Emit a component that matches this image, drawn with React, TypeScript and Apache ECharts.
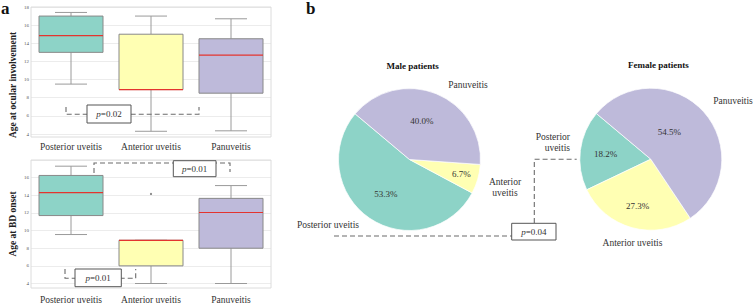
import React, { useEffect, useRef } from 'react';
import * as echarts from 'echarts';

// ---------- data ----------
const categories = ['Posterior uveitis', 'Anterior uveitis', 'Panuveitis'];
// [min, Q1, median, Q3, max]
const ocularStats = [
  [9.5, 13.0, 14.85, 17.0, 17.4],
  [4.3, 8.9, 8.9, 15.0, 17.0],
  [4.35, 8.5, 12.7, 14.5, 16.7],
];
const onsetStats = [
  [9.55, 11.7, 14.3, 16.25, 17.3],
  [4.0, 6.0, 8.9, 8.9, 8.9],
  [4.0, 8.0, 12.05, 13.65, 15.1],
];
const onsetOutliers = [[1, 14.15]];
const sliceNames = ['Posterior uveitis', 'Anterior uveitis', 'Panuveitis'];
const malePercent = [53.3, 6.7, 40.0];
const femalePercent = [18.2, 27.3, 54.5];
const maleLabelText = ['Posterior uveitis', 'Anterior\nuveitis', 'Panuveitis'];
const femaleLabelText = ['Posterior\nuveitis', 'Anterior uveitis', 'Panuveitis'];
const pValues = ['0.02', '0.01', '0.01', '0.04'];
const yMin = 4;
const yMax = 18;
const yStep = 2;

// ---------- style ----------
const COLORS = ['#8dd3c7', '#ffffb3', '#bebada'];
const SERIF = "'Liberation Serif', 'DejaVu Serif', 'Times New Roman', serif";
const TEXT = '#222';

// label placement tweaks (pixels)
const malePctShift = [[-2, 3], [15, 4], [-2, -3]];
const femalePctShift = [[-7, 0], [-3, 10], [-10, -1.5]];
const maleNamePos: [number, number, string][] = [[328, 225, 'center'], [505, 187, 'center'], [468, 84.5, 'center']];
const femaleNamePos: [number, number, string][] = [[570, 142, 'right'], [632.5, 242.7, 'center'], [733, 101, 'center']];

function renderBox(params: any, api: any) {
  const i = params.dataIndex;
  const xv = api.value(0);
  const pMin = api.coord([xv, api.value(1)]);
  const pQ1 = api.coord([xv, api.value(2)]);
  const pMed = api.coord([xv, api.value(3)]);
  const pQ3 = api.coord([xv, api.value(4)]);
  const pMax = api.coord([xv, api.value(5)]);
  const band = api.size([1, 0])[0];
  const bw = band * 0.8;
  const cw = bw * 0.5;
  const cx = pMin[0];
  const wStyle = { stroke: '#9a9a9a', lineWidth: 1 };
  return {
    type: 'group',
    children: [
      { type: 'line', shape: { x1: cx, y1: pQ3[1], x2: cx, y2: pMax[1] }, style: wStyle },
      { type: 'line', shape: { x1: cx, y1: pQ1[1], x2: cx, y2: pMin[1] }, style: wStyle },
      { type: 'line', shape: { x1: cx - cw / 2, y1: pMax[1], x2: cx + cw / 2, y2: pMax[1] }, style: wStyle },
      { type: 'line', shape: { x1: cx - cw / 2, y1: pMin[1], x2: cx + cw / 2, y2: pMin[1] }, style: wStyle },
      {
        type: 'rect',
        shape: { x: cx - bw / 2, y: pQ3[1], width: bw, height: pQ1[1] - pQ3[1] },
        style: { fill: COLORS[i], stroke: '#888', lineWidth: 1 },
      },
      {
        type: 'line',
        shape: { x1: cx - bw / 2, y1: pMed[1], x2: cx + bw / 2, y2: pMed[1] },
        style: { stroke: '#e3342f', lineWidth: 1.2 },
      },
    ],
  };
}

const dashStyle = { stroke: '#6b6b6b', lineWidth: 1.1, lineDash: [5, 3], fill: null };

function pBox(x1: number, y1: number, x2: number, y2: number, p: string) {
  return [
    {
      type: 'rect',
      shape: { x: x1, y: y1, width: x2 - x1, height: y2 - y1 },
      style: { fill: '#fff', stroke: '#555', lineWidth: 1 },
      z: 20,
    },
    {
      type: 'text',
      x: (x1 + x2) / 2,
      y: (y1 + y2) / 2,
      z: 21,
      style: {
        text: '{i|p}=' + p,
        rich: { i: { fontStyle: 'italic', fontFamily: SERIF, fontSize: 9, fill: '#333' } },
        fontFamily: SERIF,
        fontSize: 9,
        fill: '#333',
        align: 'center',
        verticalAlign: 'middle',
      },
    },
  ];
}

function dashed(points: number[][]) {
  return { type: 'polyline', shape: { points }, style: dashStyle, z: 19 };
}

function vText(text: string, x: number, y: number) {
  return {
    type: 'text',
    x,
    y,
    rotation: Math.PI / 2,
    style: {
      text,
      fontFamily: SERIF,
      fontWeight: 'bold',
      fontSize: 9.5,
      fill: TEXT,
      align: 'center',
      verticalAlign: 'middle',
    },
  };
}

function hText(text: string, x: number, y: number, size: number, align = 'center') {
  return {
    type: 'text',
    x,
    y,
    style: {
      text,
      fontFamily: SERIF,
      fontWeight: 'bold',
      fontSize: size,
      fill: '#111',
      align,
      verticalAlign: 'middle',
    },
  };
}

function yAxisCfg(gridIndex: number, showMax: boolean) {
  return {
    type: 'value',
    gridIndex,
    min: yMin,
    max: yMax,
    interval: yStep,
    axisLine: { show: false },
    axisTick: { show: false },
    axisLabel: { fontSize: 5, color: '#555', fontFamily: SERIF, margin: 2, showMaxLabel: showMax },
    splitLine: { show: true, lineStyle: { color: '#ececec', width: 1 } },
  };
}

function xAxisCfg(gridIndex: number, margin: number) {
  return {
    type: 'category',
    gridIndex,
    data: categories,
    axisLine: { show: false },
    axisTick: { show: false },
    axisLabel: { interval: 0, fontSize: 9.5, color: '#333', fontFamily: SERIF, margin },
    splitLine: { show: false },
  };
}

function pieSlices(center: number[], values: number[], shifts: number[][]) {
  return {
    type: 'pie',
    center,
    radius: 71,
    startAngle: 140,
    clockwise: false,
    avoidLabelOverlap: false,
    data: sliceNames.map((n, i) => ({ name: n, value: values[i], itemStyle: { color: COLORS[i] } })),
    itemStyle: { borderColor: '#ffffff', borderWidth: 0.7 },
    label: {
      show: true,
      position: 'inside',
      formatter: (p: any) => p.value.toFixed(1) + '%',
      fontFamily: SERIF,
      fontSize: 9,
      color: '#333',
    },
    labelLine: { show: false },
    labelLayout: (p: any) => ({ dx: shifts[p.dataIndex][0], dy: shifts[p.dataIndex][1] }),
    emphasis: { disabled: true },
    z: 2,
  };
}

function pieNames(center: number[], values: number[], texts: string[], pos: [number, number, string][]) {
  return {
    type: 'pie',
    center,
    radius: 71,
    startAngle: 140,
    clockwise: false,
    avoidLabelOverlap: false,
    silent: true,
    data: sliceNames.map((n, i) => ({ name: n, value: values[i] })),
    itemStyle: { color: 'rgba(0,0,0,0)', borderWidth: 0 },
    label: {
      show: true,
      position: 'outside',
      formatter: (p: any) => texts[p.dataIndex],
      fontFamily: SERIF,
      fontSize: 9.5,
      lineHeight: 11,
      color: '#333',
    },
    labelLine: { show: false },
    labelLayout: (p: any) => ({
      x: pos[p.dataIndex][0],
      y: pos[p.dataIndex][1],
      align: pos[p.dataIndex][2],
      verticalAlign: 'middle',
    }),
    emphasis: { disabled: true },
    z: 1,
  };
}

export default function App() {
  const ref = useRef<HTMLDivElement>(null);
  useEffect(() => {
    document.body.style.margin = '0';
    if (!ref.current) return;
    const chart = echarts.init(ref.current, undefined, { renderer: 'svg' });
    const option: any = {
      animation: false,
      backgroundColor: '#ffffff',
      textStyle: { fontFamily: SERIF },
      grid: [
        { left: 31, right: 484, top: 7, bottom: 171 },
        { left: 31, right: 484, top: 160, bottom: 21.5 },
      ],
      xAxis: [xAxisCfg(0, 8), xAxisCfg(1, 11.5)],
      yAxis: [yAxisCfg(0, true), yAxisCfg(1, false)],
      series: [
        {
          type: 'custom',
          xAxisIndex: 0,
          yAxisIndex: 0,
          renderItem: renderBox,
          encode: { x: 0, y: [1, 2, 3, 4, 5] },
          data: ocularStats.map((s, i) => [i, ...s]),
          z: 3,
        },
        {
          type: 'custom',
          xAxisIndex: 1,
          yAxisIndex: 1,
          renderItem: renderBox,
          encode: { x: 0, y: [1, 2, 3, 4, 5] },
          data: onsetStats.map((s, i) => [i, ...s]),
          z: 3,
        },
        {
          type: 'scatter',
          xAxisIndex: 1,
          yAxisIndex: 1,
          data: onsetOutliers,
          symbolSize: 2.2,
          itemStyle: { color: '#666' },
          z: 4,
        },
        pieNames([409.5, 159.5], malePercent, maleLabelText, maleNamePos),
        pieSlices([409.5, 159.5], malePercent, malePctShift),
        pieNames([650.8, 159.2], femalePercent, femaleLabelText, femaleNamePos),
        pieSlices([650.8, 159.2], femalePercent, femalePctShift),
      ],
      graphic: [
        // plot frames
        { type: 'rect', shape: { x: 31, y: 7, width: 240, height: 130 }, style: { fill: null, stroke: '#dcdcdc', lineWidth: 1 }, z: 1 },
        { type: 'rect', shape: { x: 31, y: 160, width: 240, height: 128 }, style: { fill: null, stroke: '#dcdcdc', lineWidth: 1 }, z: 1 },
        // panel letters and titles
        hText('a', 1, 8, 17, 'left'),
        hText('b', 306, 8, 17, 'left'),
        hText('Male patients', 412.7, 66, 9),
        hText('Female patients', 658.3, 65, 9),
        vText('Age at ocular involvement', 13, 85),
        vText('Age at BD onset', 13, 224),
        // p-value annotations
        dashed([[66, 107], [66, 114.3], [199, 114.3], [199, 107]]),
        ...pBox(87, 105, 131, 123, pValues[0]),
        dashed([[94, 173], [94, 163], [230, 163], [230, 172]]),
        ...pBox(173.3, 160.7, 216, 176.7, pValues[1]),
        dashed([[65, 269], [65, 278.3], [135.7, 278.3], [135.7, 269]]),
        ...pBox(75, 269, 121.3, 286.7, pValues[2]),
        dashed([[334, 236], [512, 236]]),
        dashed([[534.3, 223], [534.3, 159.3], [576.7, 159.3]]),
        ...pBox(511.7, 223.3, 556, 240, pValues[3]),
      ],
    };
    chart.setOption(option);
    return () => chart.dispose();
  }, []);
  return <div ref={ref} style={{ width: 755, height: 305 }} />;
}
